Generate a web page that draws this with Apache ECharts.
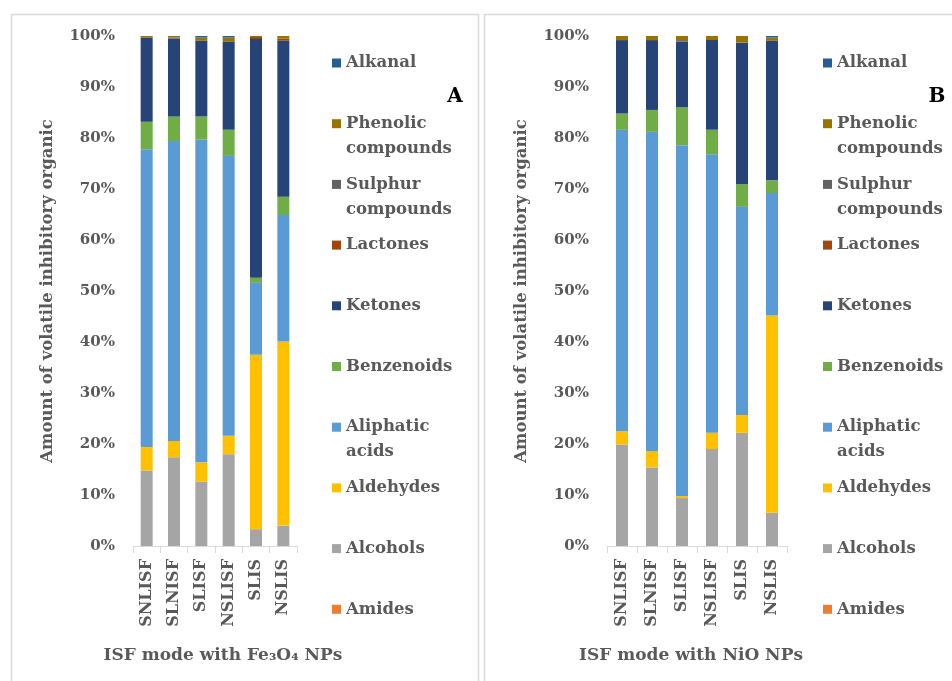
<!DOCTYPE html>
<html>
<head>
<meta charset="utf-8">
<title>Volatile inhibitory organic compounds in ISF mode</title>
<script src="https://cdn.jsdelivr.net/npm/echarts@6/dist/echarts.min.js"></script>
<style>
  html, body { margin: 0; padding: 0; background: #ffffff; }
  #chart { width: 952px; height: 681px; }
</style>
</head>
<body>
<div id="chart"></div>
<script>
// Samples on the category axis (same for both panels)
const categories = ['SNLISF', 'SLNISF', 'SLISF', 'NSLISF', 'SLIS', 'NSLIS'];
const yTicks = [0, 10, 20, 30, 40, 50, 60, 70, 80, 90, 100];

// Panel A: Fe3O4 nanoparticles, share of each compound class (%)
const feAmides    = [0, 0, 0, 0, 0, 0];
const feAlcohols  = [14.8, 17.4, 12.6, 18.0, 3.3, 4.0];
const feAldehydes = [4.6, 3.2, 3.8, 3.6, 34.2, 36.1];
const feAliphatic = [58.4, 58.8, 63.3, 54.9, 14.1, 24.8];
const feBenzenoid = [5.4, 4.8, 4.5, 5.1, 1.0, 3.6];
const feKetones   = [16.5, 15.3, 14.9, 17.3, 46.8, 30.6];
const feLactones  = [0, 0, 0, 0, 0.4, 0.4];
const feSulphur   = [0, 0.2, 0, 0, 0, 0];
const fePhenolic  = [0.3, 0.3, 0.6, 0.8, 0.2, 0.5];
const feAlkanal   = [0, 0, 0.3, 0.3, 0, 0];

// Panel B: NiO nanoparticles, share of each compound class (%)
const niAmides    = [0, 0, 0, 0, 0, 0];
const niAlcohols  = [19.9, 15.4, 9.4, 19.0, 22.2, 6.5];
const niAldehydes = [2.6, 3.2, 0.4, 3.2, 3.5, 38.7];
const niAliphatic = [59.1, 62.6, 68.8, 54.6, 40.8, 24.0];
const niBenzenoid = [3.2, 4.3, 7.4, 4.8, 4.5, 2.5];
const niKetones   = [14.4, 13.7, 12.9, 17.6, 27.7, 27.4];
const niLactones  = [0, 0, 0, 0, 0, 0];
const niSulphur   = [0, 0, 0.3, 0, 0, 0];
const niPhenolic  = [0.8, 0.8, 0.8, 0.8, 1.3, 0.6];
const niAlkanal   = [0, 0, 0, 0, 0, 0.3];

// Compound classes, bottom of the stack first
const compounds = ['Amides', 'Alcohols', 'Aldehydes', 'Aliphatic acids', 'Benzenoids',
                   'Ketones', 'Lactones', 'Sulphur compounds', 'Phenolic compounds', 'Alkanal'];
const colors = {
  'Amides': '#ED7D31', 'Alcohols': '#A5A5A5', 'Aldehydes': '#FFC000',
  'Aliphatic acids': '#5B9BD5', 'Benzenoids': '#70AD47', 'Ketones': '#264478',
  'Lactones': '#9E480E', 'Sulphur compounds': '#636363',
  'Phenolic compounds': '#997300', 'Alkanal': '#255E91'
};
const feData = [feAmides, feAlcohols, feAldehydes, feAliphatic, feBenzenoid,
                feKetones, feLactones, feSulphur, fePhenolic, feAlkanal];
const niData = [niAmides, niAlcohols, niAldehydes, niAliphatic, niBenzenoid,
                niKetones, niLactones, niSulphur, niPhenolic, niAlkanal];

const FONT = '"DejaVu Serif", "Liberation Serif", serif';
const TEXT = '#595959';
const LEGEND_SIZE = 16.5;

const panels = [
  { key: 'A', data: feData, title: 'ISF mode with Fe\u2083O\u2084 NPs', gridLeft: 133, gridWidth: 164,
    titlePad: [0, 0, 0, 16], legendLeft: 332, frameX: 9, frameW: 467, letterX: 455 },
  { key: 'B', data: niData, title: 'ISF mode with NiO NPs', gridLeft: 607, gridWidth: 180,
    titlePad: [0, 12, 0, 0], legendLeft: 823, frameX: 482, frameW: 500, letterX: 937 }
];

const grids = [], xAxes = [], yAxes = [], series = [], legends = [], graphics = [];

panels.forEach((p, i) => {
  grids.push({ left: p.gridLeft, top: 36, width: p.gridWidth, height: 510 });
  xAxes.push({
    type: 'category', gridIndex: i, data: categories,
    axisLine: { lineStyle: { color: '#D9D9D9', width: 1 } },
    axisTick: { show: true, length: 7, lineStyle: { color: '#D9D9D9' } },
    axisLabel: { rotate: 90, margin: 13, color: TEXT, fontFamily: FONT, fontWeight: 'bold', fontSize: 16 },
    name: p.title, nameLocation: 'middle', nameGap: 101,
    nameTextStyle: { color: TEXT, fontFamily: FONT, fontWeight: 'bold', fontSize: 17, padding: p.titlePad }
  });
  yAxes.push({
    type: 'value', gridIndex: i, min: yTicks[0], max: yTicks[yTicks.length - 1], interval: 10,
    axisLine: { show: false }, axisTick: { show: false }, splitLine: { show: false },
    axisLabel: { formatter: '{value}%', margin: 18, color: TEXT, fontFamily: FONT, fontWeight: 'bold', fontSize: 15 },
    name: 'Amount of volatile inhibitory organic', nameLocation: 'middle', nameGap: 77,
    nameTextStyle: { color: TEXT, fontFamily: FONT, fontWeight: 'bold', fontSize: 16.5 }
  });
  compounds.forEach((c, k) => {
    series.push({
      name: c, type: 'bar', stack: 'total' + p.key,
      xAxisIndex: i, yAxisIndex: i, barWidth: 12,
      itemStyle: { color: colors[c] },
      data: p.data[k]
    });
  });

  // Legend entries listed top-down (reverse of the stack), one box each;
  // two-word names wrap, with the marker beside the first line
  compounds.slice().reverse().forEach((c, r) => {
    const centre = 63 + 60.7 * r;
    const words = c.split(' ');
    legends.push({
      orient: 'vertical', left: p.legendLeft, top: centre - 10,
      padding: 0, icon: 'rect', itemWidth: 9, itemHeight: 9,
      data: [c],
      formatter: n => n.split(' ')[0],
      textStyle: { color: TEXT, fontFamily: FONT, fontWeight: 'bold', fontSize: LEGEND_SIZE, lineHeight: 20 }
    });
    if (words.length > 1) {
      graphics.push({
        type: 'text', x: p.legendLeft + 14, y: centre + 25,
        style: { text: words.slice(1).join(' '), fill: TEXT,
                 font: 'bold ' + LEGEND_SIZE + 'px ' + FONT, textVerticalAlign: 'middle' }
      });
    }
  });

  // Panel frame and panel letter
  graphics.push({
    type: 'rect', left: p.frameX, top: 12, z: -1,
    shape: { width: p.frameW, height: 720 },
    style: { fill: 'none', stroke: '#D9D9D9', lineWidth: 1.5 }
  });
  graphics.push({
    type: 'text', x: p.letterX, y: 97,
    style: { text: p.key, fill: '#000000', font: 'bold 20px ' + FONT, textAlign: 'center', textVerticalAlign: 'middle' }
  });
});

const chart = echarts.init(document.getElementById('chart'), null, { renderer: 'canvas' });
chart.setOption({
  animation: false,
  backgroundColor: '#ffffff',
  grid: grids, xAxis: xAxes, yAxis: yAxes,
  legend: legends, series: series, graphic: graphics
});
</script>
</body>
</html>
